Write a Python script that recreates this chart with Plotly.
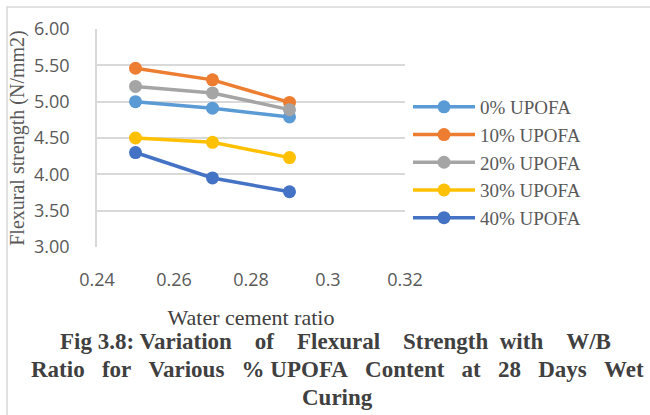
import plotly.graph_objects as go

wc_ratio = [0.25, 0.27, 0.29]
upofa_0 = [5.00, 4.91, 4.79]
upofa_10 = [5.46, 5.30, 4.99]
upofa_20 = [5.21, 5.12, 4.89]
upofa_30 = [4.50, 4.44, 4.23]
upofa_40 = [4.30, 3.95, 3.76]
series_names = ["0% UPOFA", "10% UPOFA", "20% UPOFA", "30% UPOFA", "40% UPOFA"]
series_values = [upofa_0, upofa_10, upofa_20, upofa_30, upofa_40]
colors = ["#5B9BD5", "#ED7D31", "#A5A5A5", "#FFC000", "#4472C4"]
y_ticks = [3.0, 3.5, 4.0, 4.5, 5.0, 5.5, 6.0]
y_ticklabels = ["3.00", "3.50", "4.00", "4.50", "5.00", "5.50", "6.00"]
x_ticks = [0.24, 0.26, 0.28, 0.30, 0.32]
x_ticklabels = ["0.24", "0.26", "0.28", "0.3", "0.32"]
NB = "\u00a0"
title_lines = [
    "Fig 3.8: Variation" + NB * 4 + "of" + NB * 4 + "Flexural" + NB * 4 + "Strength" + NB * 2 + "with" + NB * 4 + "W/B",
    "Ratio" + NB * 3 + "for" + NB * 3 + "Various" + NB * 3 + "%" + NB + "UPOFA" + NB * 3 + "Content" + NB * 3 + "at" + NB * 3 + "28" + NB * 3 + "Days" + NB * 3 + "Wet",
    "Curing",
]

fig = go.Figure()
for name, vals, col in zip(series_names, series_values, colors):
    fig.add_trace(go.Scatter(
        x=wc_ratio, y=vals, name=name, mode="lines+markers",
        line=dict(color=col, width=3.5),
        marker=dict(color=col, size=13, symbol="circle"),
    ))

W, H = 650, 415
L, R, T, B = 97, 405, 29, 247
pw, ph = R - L, B - T

def px(xp):
    return (xp - L) / pw

def py(yp):
    return (B - yp) / ph

annotations = []
title_y = [341, 369, 397]
title_x = [335, 337, 337]
for txt, yy, xx in zip(title_lines, title_y, title_x):
    annotations.append(dict(
        text="<b>" + txt + "</b>", xref="paper", yref="paper",
        x=px(xx), y=py(yy), xanchor="center", yanchor="middle", showarrow=False,
        font=dict(family="Liberation Serif", size=23, color="#404040"),
    ))

fig.update_layout(
    width=W, height=H,
    margin=dict(l=L, r=W - R, t=T, b=H - B, pad=0),
    paper_bgcolor="white", plot_bgcolor="white",
    showlegend=True,
    legend=dict(
        x=px(408), y=py(88), xanchor="left", yanchor="top",
        font=dict(family="Liberation Serif", size=19, color="#595959"),
        itemwidth=62, tracegroupgap=0, bgcolor="rgba(0,0,0,0)",
    ),
    xaxis=dict(
        range=[0.24, 0.32], tickvals=x_ticks, ticktext=x_ticklabels,
        showgrid=False, zeroline=False, showline=False, ticks="",
        ticklabelstandoff=20,
        tickfont=dict(family="Open Sans", size=18, color="#595959"),
        title=dict(text="Water cement ratio", standoff=19,
                   font=dict(family="Liberation Serif", size=22, color="#404040")),
    ),
    yaxis=dict(
        range=[3.0, 6.0], tickvals=y_ticks, ticktext=y_ticklabels,
        showgrid=True, gridcolor="#D9D9D9", gridwidth=1.5,
        zeroline=False, showline=True, linecolor="#D9D9D9", linewidth=1.5,
        ticks="", ticklabelstandoff=22,
        tickfont=dict(family="Open Sans", size=18, color="#595959"),
        title=dict(text="Flexural strength (N/mm2)", standoff=4,
                   font=dict(family="Liberation Serif", size=20, color="#595959")),
    ),
    annotations=annotations,
    shapes=[dict(type="rect", xref="paper", yref="paper",
                 x0=px(7), x1=px(700), y0=py(460), y1=py(7),
                 line=dict(color="#D9D9D9", width=1.5), fillcolor="rgba(0,0,0,0)",
                 layer="below")],
)

fig.write_html("out.html")
